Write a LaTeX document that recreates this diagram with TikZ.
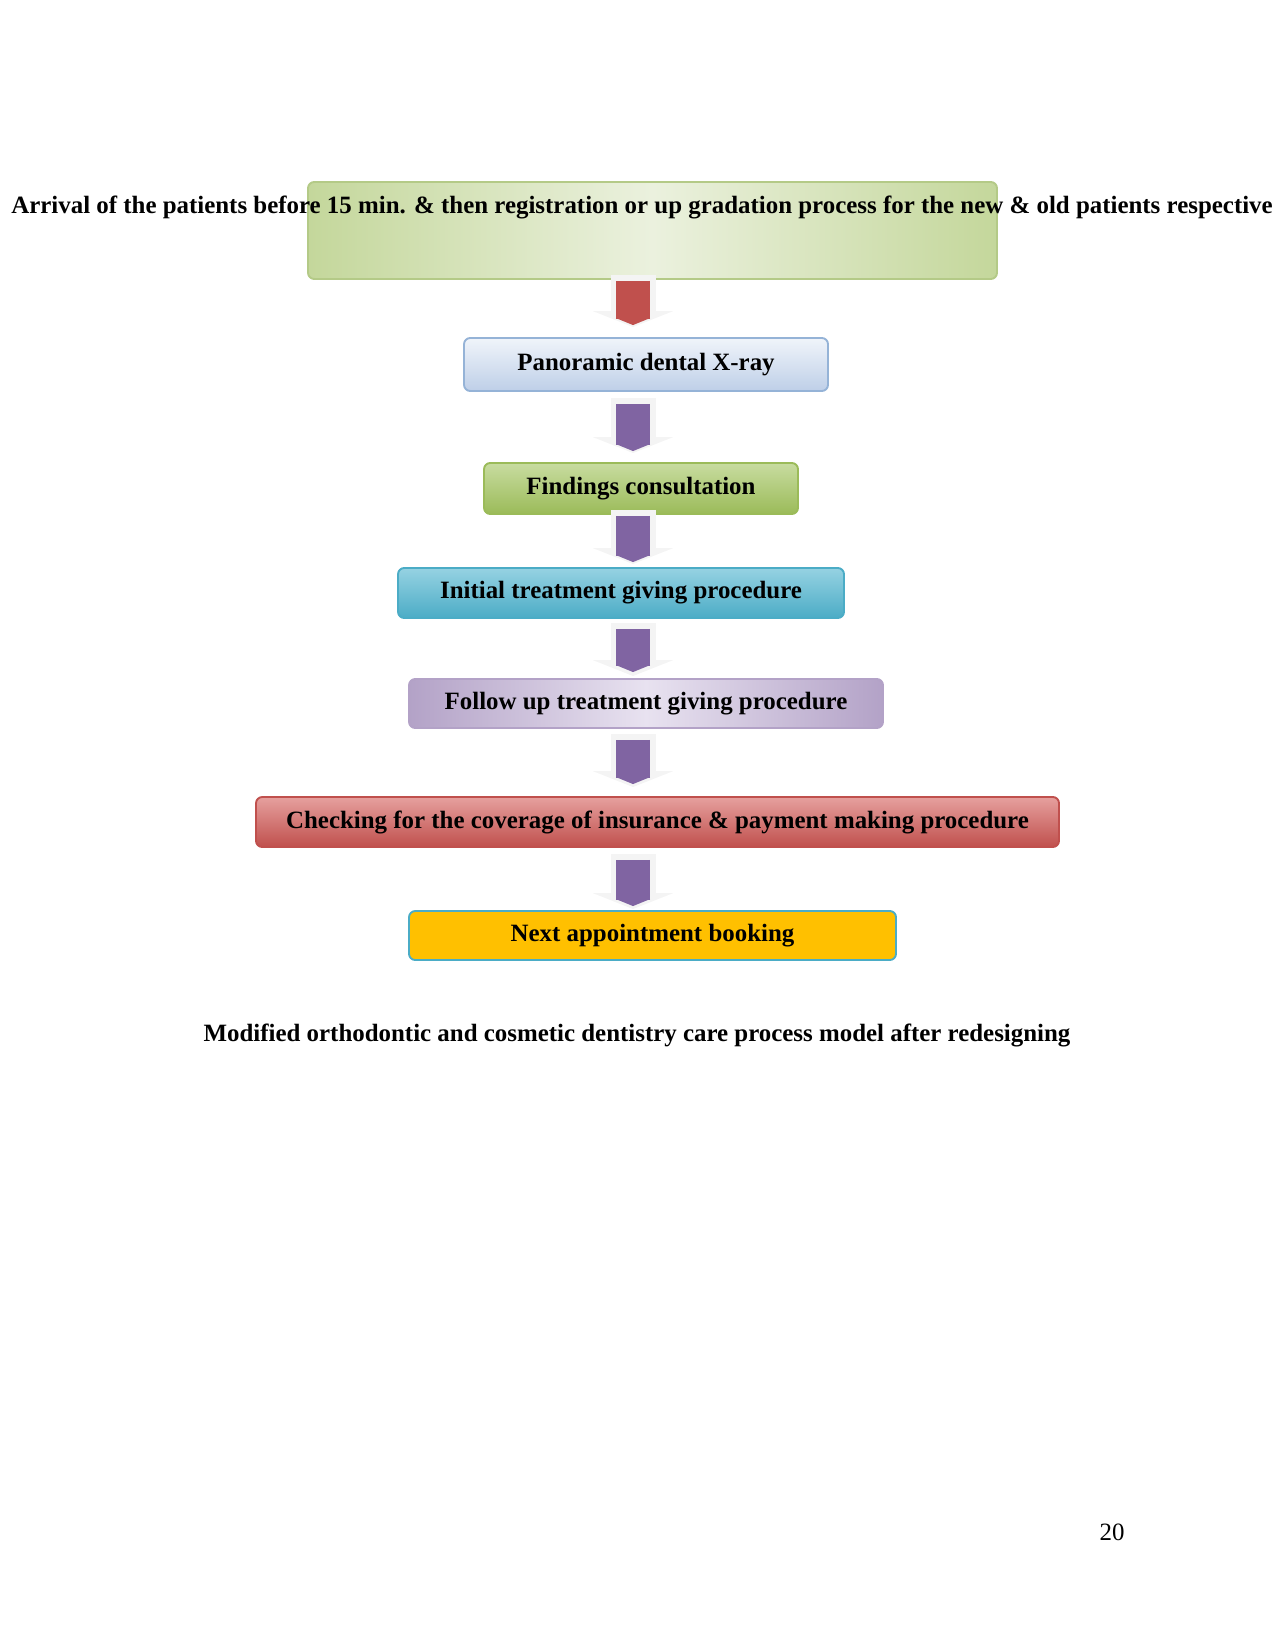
\documentclass[tikz,border=0pt]{standalone}
\usepackage{fontspec}
\setmainfont{Liberation Serif}
\usepackage{tikz}
\usetikzlibrary{arrows.meta,positioning,calc}
\definecolor{OliveLight}{RGB}{235,241,222}
\definecolor{OliveMid}{RGB}{196,215,155}
\definecolor{OliveLine}{RGB}{180,202,135}
\definecolor{SkyTop}{RGB}{240,244,250}
\definecolor{SkyBot}{RGB}{190,207,232}
\definecolor{SkyLine}{RGB}{149,179,215}
\definecolor{GrassTop}{RGB}{200,220,160}
\definecolor{GrassBot}{RGB}{155,187,89}
\definecolor{AquaTop}{RGB}{150,210,226}
\definecolor{AquaBot}{RGB}{75,172,198}
\definecolor{LilacLight}{RGB}{232,226,240}
\definecolor{LilacMid}{RGB}{179,162,199}
\definecolor{RoseTop}{RGB}{230,160,158}
\definecolor{RoseBot}{RGB}{192,80,77}
\definecolor{Amber}{RGB}{255,192,0}
\definecolor{ArrowPurple}{RGB}{128,100,162}
\definecolor{ArrowRed}{RGB}{192,80,77}
\definecolor{ArrowHalo}{RGB}{244,244,244}
\newcommand{\pu}{0.4818pt}

\begin{document}
\begin{tikzpicture}[x=0.4818pt,y=-0.4818pt,
  stepbox/.style={rounded corners=3pt,line width=0.9pt,inner sep=0pt,font=\bfseries\fontsize{12pt}{14pt}\selectfont},
  halo/.style={draw=ArrowHalo,line width=45*\pu,-{Triangle[length=16*\pu,width=80*\pu]}},
  flowarrow/.style={line width=34*\pu,-{Triangle[length=7*\pu,width=34*\pu]}}]
  \useasboundingbox (0,0) rectangle (1275,1650);
  \coordinate (axis) at (633,0);
  % boxes
  \node[stepbox,draw=OliveLine,left color=OliveMid,right color=OliveMid,middle color=OliveLight,minimum width=689*\pu,minimum height=97*\pu] (arrival) at (652.5,230.5) {};
  \node[font=\bfseries\fontsize{12pt}{14pt}\selectfont,inner sep=0pt] (arrivaltext) at (642,207) {Arrival of the patients before 15 min. \& then registration or up gradation process for the new \& old patients respective};
  \node[stepbox,draw=SkyLine,top color=SkyTop,bottom color=SkyBot,minimum width=364*\pu,minimum height=53*\pu] (xray) at (646,364.5) {Panoramic dental X-ray};
  \node[stepbox,draw=GrassBot,top color=GrassTop,bottom color=GrassBot,minimum width=314*\pu,minimum height=51*\pu] (findings) at (641,488.5) {Findings consultation};
  \node[stepbox,draw=AquaBot,top color=AquaTop,bottom color=AquaBot,minimum width=446*\pu,minimum height=50*\pu] (initial) at (621,593) {Initial treatment giving procedure};
  \node[stepbox,draw=LilacMid,left color=LilacMid,right color=LilacMid,middle color=LilacLight,minimum width=474*\pu,minimum height=49*\pu] (followup) at (646,703.5) {Follow up treatment giving procedure};
  \node[stepbox,draw=RoseBot,top color=RoseTop,bottom color=RoseBot,minimum width=803*\pu,minimum height=50*\pu] (checking) at (657.5,822) {Checking for the coverage of insurance \& payment making procedure};
  \node[stepbox,draw=AquaBot,fill=Amber,minimum width=487*\pu,minimum height=49*\pu] (next) at (652.5,935.5) {Next appointment booking};
  % arrows
  \draw[halo,shorten <=-5*\pu,shorten >=10*\pu] (arrival.south -| axis) -- (xray.north -| axis);
  \draw[flowarrow,ArrowRed,shorten <=1*\pu,shorten >=12*\pu] (arrival.south -| axis) -- (xray.north -| axis);
  \draw[halo,shorten <=6*\pu,shorten >=9*\pu] (xray.south -| axis) -- (findings.north -| axis);
  \draw[flowarrow,ArrowPurple,shorten <=12*\pu,shorten >=11*\pu] (xray.south -| axis) -- (findings.north -| axis);
  \draw[halo,shorten <=-5*\pu,shorten >=3*\pu] (findings.south -| axis) -- (initial.north -| axis);
  \draw[flowarrow,ArrowPurple,shorten <=1*\pu,shorten >=5*\pu] (findings.south -| axis) -- (initial.north -| axis);
  \draw[halo,shorten <=4*\pu,shorten >=2*\pu] (initial.south -| axis) -- (followup.north -| axis);
  \draw[flowarrow,ArrowPurple,shorten <=10*\pu,shorten >=6*\pu] (initial.south -| axis) -- (followup.north -| axis);
  \draw[halo,shorten <=5*\pu,shorten >=9*\pu] (followup.south -| axis) -- (checking.north -| axis);
  \draw[flowarrow,ArrowPurple,shorten <=11*\pu,shorten >=12*\pu] (followup.south -| axis) -- (checking.north -| axis);
  \draw[halo,shorten <=6*\pu,shorten >=1*\pu] (checking.south -| axis) -- (next.north -| axis);
  \draw[flowarrow,ArrowPurple,shorten <=12*\pu,shorten >=4*\pu] (checking.south -| axis) -- (next.north -| axis);
  % caption and page number
  \node[font=\bfseries\fontsize{12pt}{14pt}\selectfont] (caption) at (637,1035) {Modified orthodontic and cosmetic dentistry care process model after redesigning};
  \node[font=\fontsize{12pt}{14pt}\selectfont] (pagenum) at (1112,1532) {20};
\end{tikzpicture}
\end{document}
